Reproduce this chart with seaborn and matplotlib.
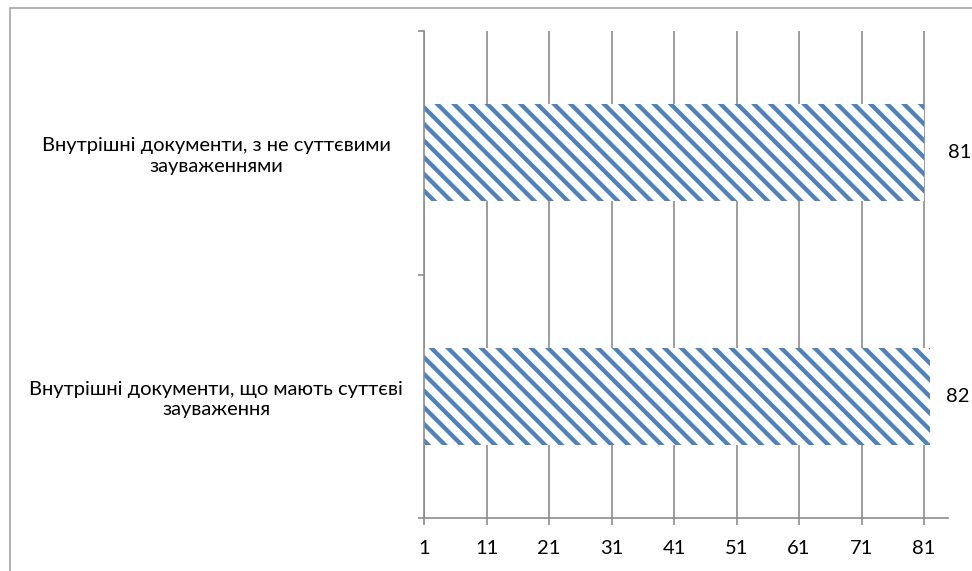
import matplotlib
matplotlib.use("Agg")
import matplotlib.pyplot as plt
import seaborn as sns
import pandas as pd
from matplotlib.patches import Rectangle

categories = [
    "Внутрішні документи, з не суттєвими\nзауваженнями",
    "Внутрішні документи, що мають суттєві\nзауваження",
]
values = [81, 82]
x_ticks = [1, 11, 21, 31, 41, 51, 61, 71, 81]

BLUE = "#4F81BD"
GRID = "#8C8C8C"
FS = 14.5

sns.set_theme(style="white")
plt.rcParams["font.family"] = ["Lato", "DejaVu Sans"]
plt.rcParams["hatch.color"] = BLUE
plt.rcParams["hatch.linewidth"] = 3.1

df = pd.DataFrame({"category": categories, "value": values})

fig = plt.figure(figsize=(9.72, 5.71), dpi=100)
ax = fig.add_axes([424 / 972, 1 - 518 / 571, (948 - 424) / 972, (518 - 31) / 571])

# outer chart frame
fig.patches.append(Rectangle((9.5 / 972, -0.1), 1.2, 1 - 7.5 / 571 + 0.1,
                             transform=fig.transFigure, fill=False,
                             edgecolor="#A6A6A6", linewidth=1.2))

sns.barplot(data=df, x="value", y="category", orient="h", ax=ax,
            color="white", width=0.4, edgecolor=BLUE, linewidth=0,
            hatch="\\\\", saturation=1)

ax.set_xlim(1, 84.84)
ax.set_ylim(1.5, -0.5)
ax.set_xticks(x_ticks)
ax.set_xticklabels([str(t) for t in x_ticks])
ax.xaxis.grid(True, color=GRID, linewidth=1.2)
ax.set_axisbelow(True)

# category boundaries get tick marks, labels sit at the category centres
ax.set_yticks([-0.5, 0.5, 1.5])
ax.set_yticklabels(["", "", ""])
ax.set_yticks([0, 1], minor=True)
ax.set_yticklabels(categories, minor=True, ha="center", multialignment="center")
ax.tick_params(axis="y", which="minor", length=0, pad=0)
ax.tick_params(axis="y", which="major", length=4.5, width=1.2, color=GRID, direction="out", left=True)
ax.tick_params(axis="x", length=5, width=1.2, color=GRID, direction="out", bottom=True, pad=11)
for lbl in ax.get_yticklabels(minor=True):
    lbl.set_x(-0.397)
    lbl.set_fontsize(FS)
    lbl.set_color("black")
    lbl.set_linespacing(1.25)
for lbl in ax.get_xticklabels():
    lbl.set_fontsize(FS)
    lbl.set_color("black")

ax.set_xlabel("")
ax.set_ylabel("")
for side in ["top", "right"]:
    ax.spines[side].set_visible(False)
for side in ["left", "bottom"]:
    ax.spines[side].set_color(GRID)
    ax.spines[side].set_linewidth(1.2)

# value labels just past the bar ends
offsets = [17, 11]
for bar, v, off in zip(ax.patches, values, offsets):
    ax.annotate(str(v), xy=(v, bar.get_y() + bar.get_height() / 2),
                xytext=(off, 0), textcoords="offset points",
                ha="left", va="center", fontsize=FS, color="black")

fig.savefig("out.png", dpi=100)
